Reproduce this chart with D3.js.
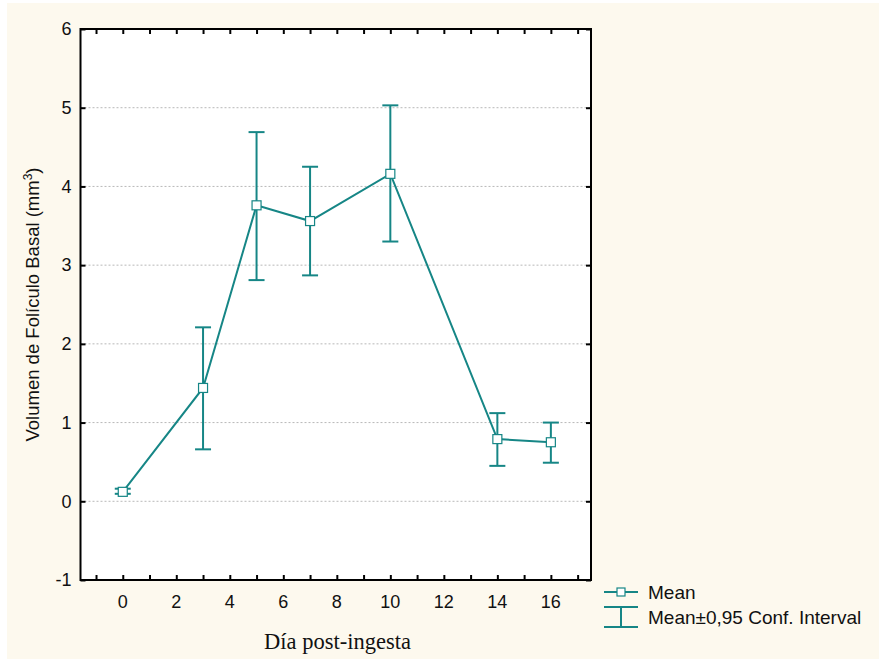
<!DOCTYPE html>
<html>
<head>
<meta charset="utf-8">
<script src="https://cdn.jsdelivr.net/npm/d3@7"></script>
<style>
  body { margin: 0; background: #ffffff; }
  text { font-family: "Liberation Sans", Arial, sans-serif; }
</style>
</head>
<body>
<div id="chart"></div>
<script>
const days = [0, 3, 5, 7, 10, 14, 16];
const means = [0.12, 1.44, 3.76, 3.56, 4.16, 0.79, 0.75];
const ciLow = [0.095, 0.66, 2.81, 2.87, 3.30, 0.45, 0.49];
const ciHigh = [0.16, 2.21, 4.69, 4.25, 5.03, 1.12, 1.00];
const xTickLabels = [0, 2, 4, 6, 8, 10, 12, 14, 16];
const yTickLabels = [-1, 0, 1, 2, 3, 4, 5, 6];
const gridValues = [0, 1, 2, 3, 4, 5];

const data = days.map((d, i) => ({ day: d, mean: means[i], lo: ciLow[i], hi: ciHigh[i] }));

const W = 879, H = 659;
const margin = { top: 29, right: 288, bottom: 79, left: 80.5 };
const width = W - margin.left - margin.right;
const height = H - margin.top - margin.bottom;
const teal = "#168686";

const svg = d3.select("#chart").append("svg")
    .attr("width", W)
    .attr("height", H);

// cream panel
svg.append("rect")
    .attr("x", 7).attr("y", 3)
    .attr("width", W - 7).attr("height", H - 3)
    .attr("fill", "#fdf9ee");

const g = svg.append("g")
    .attr("transform", "translate(" + margin.left + "," + margin.top + ")");

const x = d3.scaleLinear().domain([-1.58, 17.5]).range([0, width]);
const y = d3.scaleLinear().domain([-1, 6]).range([height, 0]);

g.append("rect")
    .attr("width", width).attr("height", height)
    .attr("fill", "#ffffff");

// gridlines
g.selectAll(".grid")
    .data(gridValues)
    .enter().append("line")
    .attr("class", "grid")
    .attr("x1", 0).attr("x2", width)
    .attr("y1", d => y(d)).attr("y2", d => y(d))
    .attr("stroke", "#b8b8b8")
    .attr("stroke-width", 1)
    .attr("stroke-dasharray", "2,2");

// axes with inward ticks
const xMinor = d3.range(-1, 18);
const xAxisBottom = d3.axisBottom(x).tickValues(xMinor).tickSize(-5).tickFormat("");
const xAxisTop = d3.axisTop(x).tickValues(xMinor).tickSize(-5).tickFormat("");
const yAxisLeft = d3.axisLeft(y).tickValues(yTickLabels).tickSize(-5).tickFormat("");
const yAxisRight = d3.axisRight(y).tickValues(yTickLabels).tickSize(-5).tickFormat("");

[
    [xAxisBottom, "translate(0," + height + ")"],
    [xAxisTop, "translate(0,0)"],
    [yAxisLeft, "translate(0,0)"],
    [yAxisRight, "translate(" + width + ",0)"]
].forEach(([ax, tr]) => {
    const a = g.append("g").attr("transform", tr).call(ax);
    a.select(".domain").remove();
    a.selectAll("line").attr("stroke", "#000").attr("stroke-width", 2);
});

// tick labels
g.selectAll(".xlab")
    .data(xTickLabels)
    .enter().append("text")
    .attr("class", "xlab")
    .attr("x", d => x(d))
    .attr("y", height + 28)
    .attr("text-anchor", "middle")
    .attr("font-size", 18)
    .attr("fill", "#111")
    .text(d => d);

g.selectAll(".ylab")
    .data(yTickLabels)
    .enter().append("text")
    .attr("class", "ylab")
    .attr("x", -9)
    .attr("y", d => y(d))
    .attr("dy", "0.35em")
    .attr("text-anchor", "end")
    .attr("font-size", 18)
    .attr("fill", "#111")
    .text(d => d);

// frame
g.append("rect")
    .attr("width", width).attr("height", height)
    .attr("fill", "none")
    .attr("stroke", "#000")
    .attr("stroke-width", 2);

// error bars
const cap = 8;
const eb = g.selectAll(".eb").data(data).enter().append("g").attr("class", "eb")
    .attr("stroke", teal).attr("stroke-width", 2);
eb.append("line")
    .attr("x1", d => x(d.day)).attr("x2", d => x(d.day))
    .attr("y1", d => y(d.lo)).attr("y2", d => y(d.hi));
eb.append("line")
    .attr("x1", d => x(d.day) - cap).attr("x2", d => x(d.day) + cap)
    .attr("y1", d => y(d.hi)).attr("y2", d => y(d.hi));
eb.append("line")
    .attr("x1", d => x(d.day) - cap).attr("x2", d => x(d.day) + cap)
    .attr("y1", d => y(d.lo)).attr("y2", d => y(d.lo));

// mean line
const line = d3.line().x(d => x(d.day)).y(d => y(d.mean));
g.append("path")
    .datum(data)
    .attr("d", line)
    .attr("fill", "none")
    .attr("stroke", teal)
    .attr("stroke-width", 2);

g.selectAll(".pt")
    .data(data)
    .enter().append("rect")
    .attr("class", "pt")
    .attr("x", d => x(d.day) - 4.5)
    .attr("y", d => y(d.mean) - 4.5)
    .attr("width", 9).attr("height", 9)
    .attr("fill", "#fff")
    .attr("stroke", teal)
    .attr("stroke-width", 1.2);

// axis titles
svg.append("text")
    .attr("x", 337.5)
    .attr("y", 649)
    .attr("text-anchor", "middle")
    .attr("font-size", 22.5)
    .style("font-family", "'Liberation Serif', 'Times New Roman', serif")
    .attr("fill", "#111")
    .text("Día post-ingesta");

const yt = svg.append("text")
    .attr("transform", "translate(39," + (margin.top + y(2.5)) + ") rotate(-90)")
    .attr("text-anchor", "middle")
    .attr("font-size", 18.5)
    .attr("fill", "#111");
yt.append("tspan").text("Volumen de Folículo Basal (mm");
yt.append("tspan").attr("dy", -7).attr("font-size", 12).text("3");
yt.append("tspan").attr("dy", 7).text(")");

// legend
const lg = svg.append("g").attr("transform", "translate(604,592)");
lg.append("line").attr("x1", 0).attr("x2", 34).attr("y1", 0).attr("y2", 0)
    .attr("stroke", teal).attr("stroke-width", 2);
lg.append("rect").attr("x", 13).attr("y", -4).attr("width", 8).attr("height", 8)
    .attr("fill", "#fff").attr("stroke", teal).attr("stroke-width", 1.2);
lg.append("text").attr("x", 44).attr("y", 0).attr("dy", "0.35em")
    .attr("font-size", 19).attr("fill", "#111").text("Mean");
const ib = lg.append("g").attr("stroke", teal).attr("stroke-width", 2);
ib.append("line").attr("x1", 0).attr("x2", 34).attr("y1", 15).attr("y2", 15);
ib.append("line").attr("x1", 0).attr("x2", 34).attr("y1", 35).attr("y2", 35);
ib.append("line").attr("x1", 17).attr("x2", 17).attr("y1", 15).attr("y2", 35);
lg.append("text").attr("x", 44).attr("y", 25).attr("dy", "0.35em")
    .attr("font-size", 19).attr("fill", "#111").text("Mean±0,95 Conf. Interval");
</script>
</body>
</html>
